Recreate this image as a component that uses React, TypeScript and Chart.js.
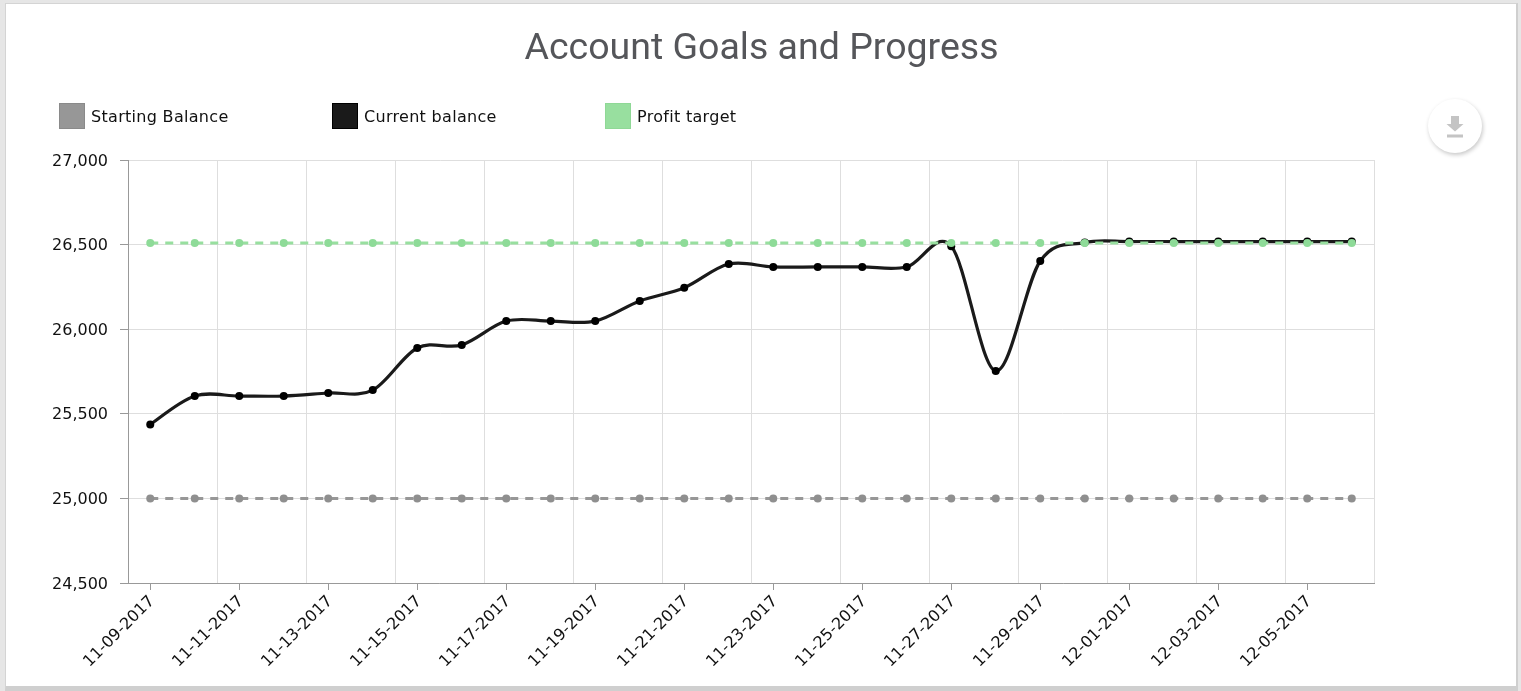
import { useEffect, useRef } from "react";
import Chart from "chart.js/auto";

const dates = [
  "11-09-2017", "11-10-2017", "11-11-2017", "11-12-2017", "11-13-2017", "11-14-2017", "11-15-2017",
  "11-16-2017", "11-17-2017", "11-18-2017", "11-19-2017", "11-20-2017", "11-21-2017", "11-22-2017",
  "11-23-2017", "11-24-2017", "11-25-2017", "11-26-2017", "11-27-2017", "11-28-2017", "11-29-2017",
  "11-30-2017", "12-01-2017", "12-02-2017", "12-03-2017", "12-04-2017", "12-05-2017", "12-06-2017",
];
const startingBalance = [
  25000, 25000, 25000, 25000, 25000, 25000, 25000, 25000, 25000, 25000, 25000, 25000, 25000, 25000,
  25000, 25000, 25000, 25000, 25000, 25000, 25000, 25000, 25000, 25000, 25000, 25000, 25000, 25000,
];
const currentBalance = [
  25437, 25605, 25605, 25605, 25623, 25640, 25889, 25907, 26048, 26048, 26048, 26167, 26245, 26385,
  26368, 26368, 26368, 26368, 26490, 25753, 26403, 26512, 26518, 26518, 26518, 26518, 26518, 26518,
];
const profitTarget = [
  26510, 26510, 26510, 26510, 26510, 26510, 26510, 26510, 26510, 26510, 26510, 26510, 26510, 26510,
  26510, 26510, 26510, 26510, 26510, 26510, 26510, 26510, 26510, 26510, 26510, 26510, 26510, 26510,
];
const gridBoundaries = [-0.5, 1.5, 3.5, 5.5, 7.5, 9.5, 11.5, 13.5, 15.5, 17.5, 19.5, 21.5, 23.5, 25.5, 27.5];

const legendItems = [
  { label: "Starting Balance", color: "#979797", border: "#8a8a8a", left: 59 },
  { label: "Current balance", color: "#1a1a1a", border: "#000000", left: 332 },
  { label: "Profit target", color: "#98df9f", border: "#8fd896", left: 605 },
];

const textFont = "'DejaVu Sans', Verdana, sans-serif";

// the original curve is a uniform catmull-rom, chart.js weights its tangents by distance
const uniformSpline = {
  id: "uniformSpline",
  afterDatasetsUpdate: (chart: any) => {
    const meta = chart.getDatasetMeta(1);
    meta.dataset.updateControlPoints(chart.chartArea, "x");
    const points = meta.data;
    points.forEach((point: any, i: number) => {
      const prev = points[Math.max(i - 1, 0)];
      const next = points[Math.min(i + 1, points.length - 1)];
      const dx = (next.x - prev.x) / 6;
      const dy = (next.y - prev.y) / 6;
      point.cp1x = point.x - dx;
      point.cp1y = point.y - dy;
      point.cp2x = point.x + dx;
      point.cp2y = point.y + dy;
    });
  },
};

const App = () => {
  const canvasRef = useRef<HTMLCanvasElement | null>(null);

  useEffect(() => {
    if (!canvasRef.current) return;
    const chart = new Chart(canvasRef.current, {
      type: "line",
      plugins: [uniformSpline],
      data: {
        labels: dates,
        datasets: [
          {
            label: "Starting Balance",
            data: startingBalance,
            borderColor: "#979797",
            backgroundColor: "#8f8f8f",
            borderWidth: 3,
            borderDash: [8, 7],
            pointRadius: 4,
            pointBorderWidth: 0,
            order: 3,
          },
          {
            label: "Current balance",
            data: currentBalance,
            borderColor: "#1a1a1a",
            backgroundColor: "#000000",
            borderWidth: 3.2,
            tension: 0.4,
            pointRadius: 4,
            pointBorderWidth: 0,
            order: 2,
          },
          {
            label: "Profit target",
            data: profitTarget,
            borderColor: "#98df9f",
            backgroundColor: "#8edb98",
            borderWidth: 3,
            borderDash: [8, 7],
            pointRadius: 4,
            pointBorderWidth: 0,
            order: 1,
          },
        ],
      },
      options: {
        animation: false,
        responsive: false,
        layout: { padding: { top: 160, right: 147, bottom: 0, left: 0 } },
        plugins: {
          legend: { display: false },
          tooltip: { enabled: false },
        },
        scales: {
          x: {
            type: "category",
            offset: true,
            afterBuildTicks: (scale) => {
              scale.ticks = scale.ticks.filter((_, i) => i % 2 === 0);
            },
            afterFit: (scale) => {
              scale.height = 108;
            },
            grid: { drawOnChartArea: false, tickColor: "#999999", tickLength: 7 },
            border: { color: "#999999" },
            ticks: {
              autoSkip: false,
              minRotation: 45,
              maxRotation: 45,
              color: "#111111",
              font: { family: textFont, size: 16 },
              padding: 2,
              labelOffset: 2,
            },
          },
          xGrid: {
            type: "linear",
            position: "bottom",
            min: -0.5,
            max: 27.5,
            afterBuildTicks: (scale) => {
              scale.ticks = gridBoundaries.map((value) => ({ value }));
            },
            afterFit: (scale) => {
              scale.height = 0;
            },
            grid: { color: "#dedede", drawTicks: false },
            border: { display: false },
            ticks: { display: false },
          },
          y: {
            min: 24500,
            max: 27000,
            afterFit: (scale) => {
              scale.width = 128;
            },
            grid: { color: "#dedede", tickColor: "#999999", tickLength: 8 },
            border: { color: "#999999" },
            ticks: {
              stepSize: 500,
              color: "#111111",
              font: { family: textFont, size: 16 },
              padding: 12,
              labelOffset: 1.5,
              callback: (value) => Number(value).toLocaleString("en-US"),
            },
          },
        },
      },
    });

    return () => {
      chart.destroy();
    };
  }, []);

  return (
    <div style={{ position: "fixed", inset: 0, background: "#e6e6e6", overflow: "hidden" }}>
      <div
        style={{
          position: "absolute",
          left: 5,
          top: 3,
          width: 1510,
          height: 682,
          background: "#ffffff",
          borderTop: "1px solid #d4d4d4",
          borderLeft: "1px solid #d4d4d4",
          borderRight: "2px solid #cfcfcf",
          borderBottom: "5px solid #cfcfcf",
        }}
      />
      <canvas ref={canvasRef} width={1521} height={691} style={{ position: "absolute", left: 0, top: 0 }} />
      <div
        style={{
          position: "absolute",
          left: 0,
          top: 23,
          width: 1523,
          textAlign: "center",
          fontFamily: "Roboto",
          fontSize: 37.5,
          lineHeight: "46px",
          color: "#55565a",
        }}
      >
        Account Goals and Progress
      </div>
      {legendItems.map((item) => (
        <div
          key={item.label}
          style={{
            position: "absolute",
            left: item.left,
            top: 103,
            height: 26,
            display: "flex",
            alignItems: "center",
            fontFamily: textFont,
            fontSize: 16,
            letterSpacing: 0.3,
            color: "#111111",
          }}
        >
          <span
            style={{
              width: 24,
              height: 24,
              marginRight: 6,
              background: item.color,
              border: `1px solid ${item.border}`,
            }}
          />
          {item.label}
        </div>
      ))}
      <div
        style={{
          position: "absolute",
          left: 1428,
          top: 99,
          width: 54,
          height: 54,
          borderRadius: "50%",
          background: "#ffffff",
          boxShadow: "1px 2px 4px rgba(0,0,0,0.22)",
        }}
      >
        <svg width="54" height="54" viewBox="0 0 54 54">
          <path d="M23 17h8v8h4.5L27 32.5 18.500 25H23z M19 35.500h16v3H19z" fill="#c4c4c4" />
        </svg>
      </div>
    </div>
  );
};

export default App;
